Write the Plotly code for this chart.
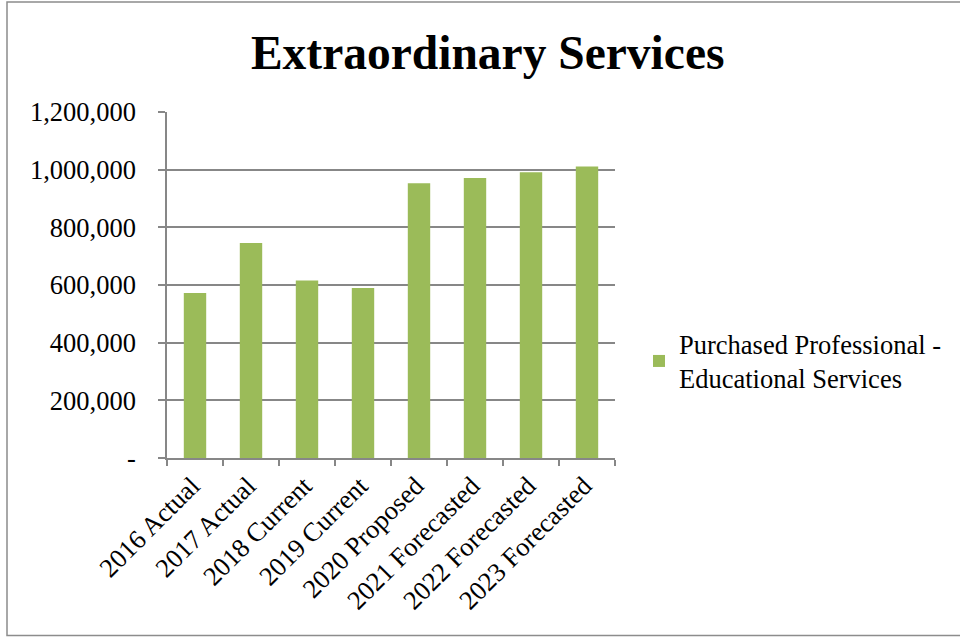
import plotly.graph_objects as go

categories = ["2016 Actual", "2017 Actual", "2018 Current", "2019 Current",
              "2020 Proposed", "2021 Forecasted", "2022 Forecasted", "2023 Forecasted"]
values = [572000, 746000, 616000, 590000, 953000, 971000, 991000, 1011000]
series_name = "Purchased Professional -<br>Educational Services"
y_tickvals = [0, 200000, 400000, 600000, 800000, 1000000, 1200000]
y_ticktext = ["-", "200,000", "400,000", "600,000", "800,000", "1,000,000", "1,200,000"]

FONT = "Liberation Serif, Times New Roman, serif"
GRID = "#878787"
FS = 26.5

fig = go.Figure()
fig.add_trace(go.Bar(
    x=categories, y=values, name=series_name,
    marker=dict(color="#9BBB59", line=dict(width=0)),
    showlegend=True,
))

L, R, T, B = 167, 345, 112, 179
W, H = 960 - L - R, 637 - T - B

fig.update_layout(
    width=960, height=637,
    margin=dict(l=L, r=R, t=T, b=B),
    paper_bgcolor="white", plot_bgcolor="white",
    font=dict(family=FONT, size=FS, color="black"),
    title=dict(text="<b>Extraordinary Services</b>", x=0.508, xanchor="center",
               y=1 - 52 / 637, yanchor="middle", yref="container",
               font=dict(family=FONT, size=47.5, color="black")),
    bargap=0.6,
    legend=dict(x=(639 - L) / W, xanchor="left", y=(458 - 361) / H, yanchor="middle",
                font=dict(family=FONT, size=FS, color="black"),
                bgcolor="rgba(0,0,0,0)"),
    xaxis=dict(type="category", showline=True, linecolor=GRID, linewidth=1.5,
               ticks="outside", tickson="boundaries", ticklen=6, tickcolor=GRID,
               tickwidth=1.5, tickangle=-45, showgrid=False, ticklabelshift=-3,
               tickfont=dict(family=FONT, size=FS, color="black")),
    yaxis=dict(range=[0, 1200000], tickvals=y_tickvals, ticktext=y_ticktext,
               showline=True, linecolor=GRID, linewidth=1.5,
               ticks="outside", ticklen=7, tickcolor=GRID, tickwidth=1.5,
               showgrid=True, gridcolor=GRID, gridwidth=1.5, zeroline=False,
               ticklabelstandoff=17,
               tickfont=dict(family=FONT, size=FS, color="black")),
)

# outer chart border
fig.add_shape(type="rect", xref="paper", yref="paper",
              x0=(7 - L) / W, x1=(962 - L) / W,
              y0=(458 - 635.5) / H, y1=(458 - 2) / H,
              line=dict(color="#8c8c8c", width=1.5), fillcolor="rgba(0,0,0,0)",
              layer="below")

fig.write_html("out.html", config={"displayModeBar": False},
               post_script="document.body.style.margin='0px';")
